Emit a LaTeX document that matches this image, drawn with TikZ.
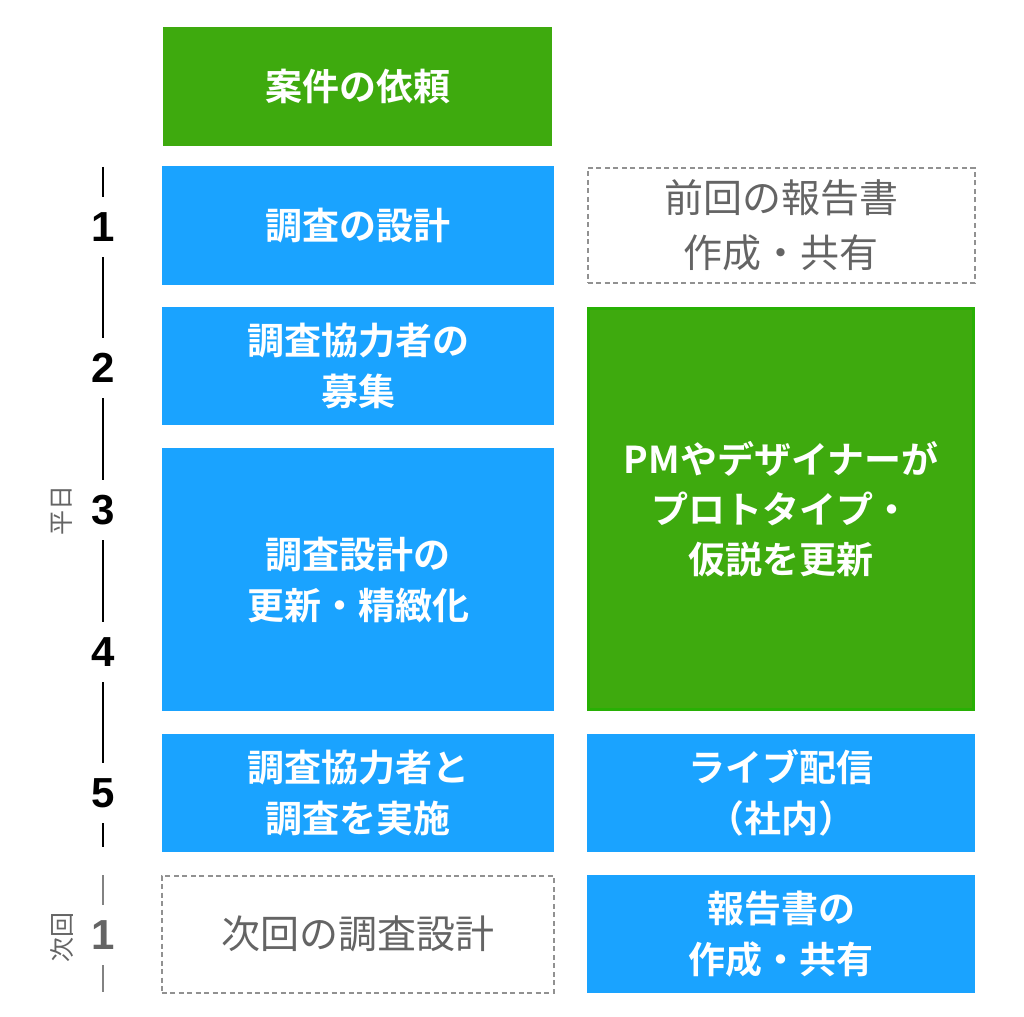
\documentclass[tikz,border=0pt]{standalone}
\usepackage{fontspec}
\newfontfamily\jpb{Noto Sans CJK JP Bold}
\newfontfamily\jpr{Noto Sans CJK JP}
\newfontfamily\numf{Liberation Sans}
\definecolor{myblue}{RGB}{26,163,255}
\definecolor{mygreen}{RGB}{62,170,14}
\definecolor{greenedge}{RGB}{40,176,4}
\definecolor{dashgray}{RGB}{145,145,145}
\definecolor{txtgray}{RGB}{100,100,100}
\definecolor{axisgray}{RGB}{130,130,130}
\begin{document}
\begin{tikzpicture}[x=1pt,y=-1pt,
  box/.style={inner sep=0pt, outer sep=0pt, align=center, anchor=center},
  bluebox/.style={box, fill=myblue, text=white, font=\jpb\fontsize{37}{51}\selectfont},
  greenbox/.style={box, fill=mygreen, text=white, font=\jpb\fontsize{37}{50}\selectfont},
  dashbox/.style={box, draw=dashgray, line width=2pt, dash pattern=on 5pt off 3.5pt, text=txtgray, font=\jpr\fontsize{39}{55}\selectfont},
  num/.style={inner sep=0pt, outer sep=0pt, minimum height=60pt, font=\numf\bfseries\fontsize{42}{42}\selectfont},
  axis/.style={line width=2pt, black},
  axisg/.style={line width=1.6pt, axisgray},
  side/.style={inner sep=0pt, text=txtgray, rotate=90, font=\jpr\fontsize{25}{25}\selectfont}
]
\useasboundingbox (0,0) rectangle (1024,1016);

% left column
\node[greenbox, minimum width=389pt, minimum height=119pt] (top) at (357.5,86.5) {案件の依頼};
\node[bluebox, minimum width=392pt, minimum height=119pt] (b1) at (358,225.5) {調査の設計};
\node[bluebox, minimum width=392pt, minimum height=118pt] (b2) at (358,366) {調査協力者の\\募集};
\node[bluebox, minimum width=392pt, minimum height=263pt] (b3) at (358,579.5) {調査設計の\\更新・精緻化};
\node[bluebox, minimum width=392pt, minimum height=118pt] (b5) at (358,793) {調査協力者と\\調査を実施};
\node[dashbox, minimum width=392pt, minimum height=117pt] (bn) at (357.5,934) {次回の調査設計};

% right column
\node[dashbox, minimum width=387pt, minimum height=115pt] (r1) at (781,225.5) {前回の報告書\\作成・共有};
\node[greenbox, draw=greenedge, line width=3pt, minimum width=385pt, minimum height=401pt] (rg) at (781,509) {PMやデザイナーが\\プロトタイプ・\\仮説を更新};
\node[bluebox, minimum width=388pt, minimum height=118pt] (r5) at (781,793) {ライブ配信\\（社内）};
\node[bluebox, minimum width=388pt, minimum height=118pt] (rn) at (781,934) {報告書の\\作成・共有};

% axis
\node[num] (n1) at (103,227) {1};
\node[num] (n2) at (103,368) {2};
\node[num] (n3) at (103,510) {3};
\node[num] (n4) at (103,652) {4};
\node[num] (n5) at (103,793) {5};
\node[num, text=txtgray] (nn) at (103,935) {1};
\coordinate (t0) at (103,167);
\coordinate (t5) at (103,847);
\coordinate (s0) at (103,875);
\coordinate (s1) at (103,992);
\draw[axis] (t0) -- (n1.north);
\draw[axis] (n1.south) -- (n2.north);
\draw[axis] (n2.south) -- (n3.north);
\draw[axis] (n3.south) -- (n4.north);
\draw[axis] (n4.south) -- (n5.north);
\draw[axis] (n5.south) -- (t5);
\draw[axisg] (s0) -- (nn.north);
\draw[axisg] (nn.south) -- (s1);

\node[side] (weekday) at (62,510) {平日};
\node[side] (nextt) at (62,937) {次回};
\end{tikzpicture}
\end{document}
